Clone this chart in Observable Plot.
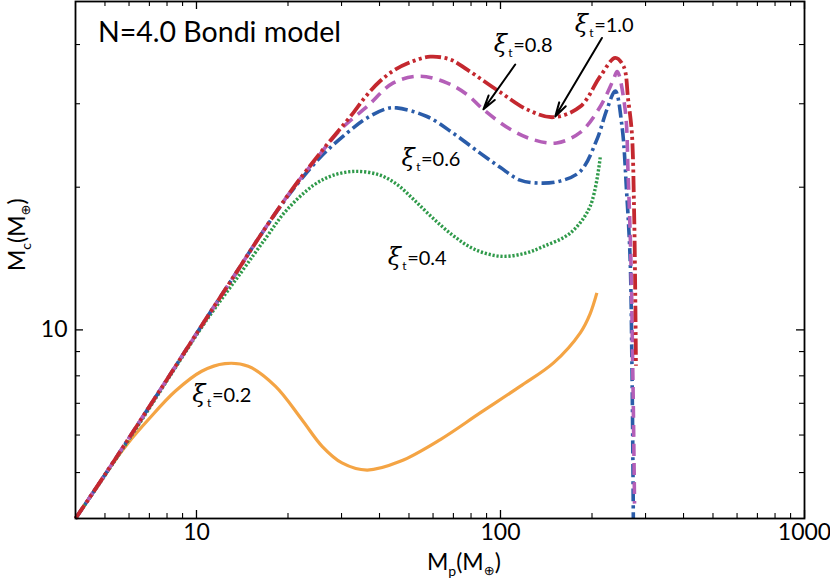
<!DOCTYPE html>
<html>
<head>
<meta charset="utf-8">
<script src="https://cdn.jsdelivr.net/npm/d3@7"></script>
<script src="https://cdn.jsdelivr.net/npm/@observablehq/plot@0.6"></script>
<style>
  html, body { margin: 0; padding: 0; background: #fff; }
  svg { display: block; }
</style>
</head>
<body>
<div id="chart"></div>
<script>
// ---- Data (Mp in Earth masses, Mc in Earth masses) ----
const xi10_Mp = [4, 5, 6.6, 8.5, 10.7, 13.3, 16.2, 20.3, 25.5, 32.8, 36.2, 40.2, 45, 51.6, 58.7, 68.3, 77.7, 100, 122, 149, 183, 213, 238.5, 254, 263, 270.4, 275, 277.5, 279];
const xi10_Mc = [4, 4.95, 6.5, 8.35, 10.5, 13.0, 15.8, 19.5, 23.6, 28.7, 31.2, 33.5, 35.4, 36.9, 37.7, 37.2, 35.4, 31.7, 29.2, 28.1, 29.6, 34.3, 37.5, 36.0, 30.6, 26.1, 18.0, 12.0, 8.4];

const xi08_Mp = [4, 5, 6.6, 8.5, 10.7, 13.3, 16.2, 20.3, 25.5, 30, 36.4, 44.4, 54.5, 66.6, 77.5, 87.7, 107.7, 128, 153, 183, 213, 235, 242, 257, 263, 268.5, 272, 274, 276];
const xi08_Mc = [4, 4.95, 6.5, 8.35, 10.5, 13.0, 15.8, 19.5, 23.5, 26.6, 29.6, 33.2, 34.3, 33.2, 31.4, 29.2, 26.5, 25.2, 24.8, 26.1, 29.6, 33.7, 35.1, 29.2, 21.1, 14.1, 8.7, 6.3, 4.3];

const xi06_Mp = [4, 5, 6.6, 8.5, 10.7, 13.3, 16.2, 20.3, 25.5, 31.2, 36.4, 42.3, 45.6, 57.3, 69.9, 85.7, 100, 116, 135, 157, 183, 207.5, 224, 238.5, 251, 260, 267, 270.5, 272.6, 273.5];
const xi06_Mc = [4, 4.95, 6.5, 8.35, 10.5, 13.0, 15.8, 19.4, 23.1, 26.0, 28.0, 29.3, 29.4, 28.2, 26.0, 23.6, 22.0, 20.7, 20.4, 20.6, 21.6, 25.2, 29.2, 31.9, 26.9, 19.5, 14.1, 8.66, 5.33, 4.0];

const xi04_Mp = [4, 5, 6.6, 8.5, 10.7, 14, 17, 19.8, 24.3, 28.2, 33.5, 40.2, 46, 52, 60, 70, 82, 100, 120, 138.5, 169.5, 197, 213];
const xi04_Mc = [4, 4.93, 6.45, 8.3, 10.4, 13.2, 15.7, 17.9, 20.2, 21.2, 21.6, 21.2, 20.2, 18.8, 17.2, 15.8, 14.8, 14.3, 14.5, 15.0, 16.0, 18.2, 23.2];

const xi02_Mp = [4, 4.41, 5.13, 5.97, 6.95, 8.51, 10.4, 12.4, 14.8, 18.2, 22.2, 25.9, 30.1, 36.4, 46.8, 63.4, 85.7, 116, 149.4, 183, 197, 207.5];
const xi02_Mc = [4, 4.39, 5.07, 5.78, 6.47, 7.42, 8.18, 8.49, 8.38, 7.60, 6.47, 5.68, 5.24, 5.06, 5.28, 5.87, 6.68, 7.60, 8.52, 9.86, 10.8, 11.97];

// tick values
const xMajorTicks = [10, 100, 1000];
const xMinorTicks = [5, 6, 7, 8, 9, 20, 30, 40, 50, 60, 70, 80, 90, 200, 300, 400, 500, 600, 700, 800, 900];
const yMajorTicks = [10];
const yMinorTicks = [5, 6, 7, 8, 9, 20, 30, 40];
const xTickLabels = ["10", "100", "1000"];
const yTickLabels = ["10"];

// curve labels
const labelValues = ["1.0", "0.8", "0.6", "0.4", "0.2"];
const labelMp = [176, 95.3, 47.4, 42.7, 9.73];
const labelMc = [42.4, 38.4, 22.1, 13.7, 7.03];

// arrows (from label to curve)
const arrowFromMp = [215.6, 111.8];
const arrowFromMc = [41.3, 36.3];
const arrowToMp = [151.4, 87.9];
const arrowToMc = [28.2, 29.2];

const zip = (xs, ys) => xs.map((x, i) => ({x, y: ys[i]}));

const W = 830, H = 581;
const mL = 75, mR = 26, mT = 1, mB = 63;
const fw = W - mL - mR, fh = H - mT - mB;

const lineOpts = {x: "x", y: "y", curve: "catmull-rom", strokeLinecap: "butt", strokeLinejoin: "round"};

const plot = Plot.plot({
  width: W, height: H,
  marginLeft: mL, marginRight: mR, marginTop: mT, marginBottom: mB,
  x: {type: "log", domain: [4, 1000], axis: null},
  y: {type: "log", domain: [4, 49.3], axis: null},
  style: {fontFamily: "Lato, 'Open Sans', sans-serif", background: "#fff", color: "#000"},
  marks: [
    // curves
    Plot.line(zip(xi02_Mp, xi02_Mc), {...lineOpts, stroke: "#f4a444", strokeWidth: 3.2}),
    Plot.line(zip(xi04_Mp, xi04_Mc), {...lineOpts, stroke: "#2f9a4a", strokeWidth: 3.4, strokeDasharray: "2.2,1.8"}),
    Plot.line(zip(xi06_Mp, xi06_Mc), {...lineOpts, stroke: "#2a5ca9", strokeWidth: 3.6, strokeDasharray: "13,4,3,4"}),
    Plot.line(zip(xi08_Mp, xi08_Mc), {...lineOpts, stroke: "#b45fb8", strokeWidth: 3.6, strokeDasharray: "12,7"}),
    Plot.line(zip(xi10_Mp, xi10_Mc), {...lineOpts, stroke: "#c4282f", strokeWidth: 3.8, strokeDasharray: "16,3.5,3,3.5,3,3.5"}),
    // arrows
    Plot.arrow([0, 1], {
      x1: d => arrowFromMp[d], y1: d => arrowFromMc[d],
      x2: d => arrowToMp[d], y2: d => arrowToMc[d],
      stroke: "#000", strokeWidth: 2, headLength: 11, headAngle: 30
    }),
    // ticks (inward)
    Plot.tickX(xMajorTicks, {x: d => d, insetTop: fh - 8, stroke: "#000", strokeWidth: 1.3}),
    Plot.tickX(xMinorTicks, {x: d => d, insetTop: fh - 5, stroke: "#000", strokeWidth: 1.1}),
    Plot.tickX(xMajorTicks, {x: d => d, insetBottom: fh - 8, stroke: "#000", strokeWidth: 1.3}),
    Plot.tickX(xMinorTicks, {x: d => d, insetBottom: fh - 5, stroke: "#000", strokeWidth: 1.1}),
    Plot.tickY(yMajorTicks, {y: d => d, insetRight: fw - 8, stroke: "#000", strokeWidth: 1.3}),
    Plot.tickY(yMinorTicks, {y: d => d, insetRight: fw - 5, stroke: "#000", strokeWidth: 1.1}),
    Plot.tickY(yMajorTicks, {y: d => d, insetLeft: fw - 8, stroke: "#000", strokeWidth: 1.3}),
    Plot.tickY(yMinorTicks, {y: d => d, insetLeft: fw - 5, stroke: "#000", strokeWidth: 1.1}),
    // tick labels
    Plot.text(xMajorTicks, {x: d => d, text: (d, i) => xTickLabels[i], frameAnchor: "bottom", lineAnchor: "top", dy: 5, fontSize: 23, fill: "#000"}),
    Plot.text(yMajorTicks, {y: d => d, text: (d, i) => yTickLabels[i], frameAnchor: "left", textAnchor: "end", dx: -8, fontSize: 23, fill: "#000"}),
    Plot.frame({stroke: "#000", strokeWidth: 1.8})
  ]
});

document.getElementById("chart").appendChild(plot);

const svg = d3.select(plot);
const sx = plot.scale("x"), sy = plot.scale("y");
const ff = "Lato, 'Open Sans', sans-serif";

// Title inside plot
svg.append("text")
  .attr("x", 98).attr("y", 41.5).attr("text-anchor", "start")
  .attr("font-family", ff).attr("font-size", 28.5).attr("fill", "#000")
  .text("N=4.0 Bondi model");

// Curve labels ξ_t=...
labelValues.forEach((v, i) => {
  const t = svg.append("text")
    .attr("x", sx.apply(labelMp[i])).attr("y", sy.apply(labelMc[i]))
    .attr("text-anchor", "start")
    .attr("font-family", ff).attr("font-size", 20).attr("fill", "#000");
  t.append("tspan").attr("font-size", 24).attr("font-family", "'DejaVu Serif', serif").attr("font-style", "italic").text("ξ");
  t.append("tspan").attr("font-size", 12).attr("dy", 5).attr("dx", 1.5).text("t");
  t.append("tspan").attr("dy", -5).attr("dx", 0.5).text("=" + v);
});

// x-axis title
const xl = svg.append("text")
  .attr("x", 427).attr("y", 570).attr("text-anchor", "start")
  .attr("font-family", ff).attr("font-size", 23).attr("fill", "#000");
xl.append("tspan").text("M");
xl.append("tspan").attr("font-size", 14).attr("dy", 6).text("p");
xl.append("tspan").attr("dy", -6).text("(M");
xl.append("tspan").attr("font-size", 13).attr("dy", 5).attr("font-family", "'DejaVu Sans', sans-serif").text("⊕");
xl.append("tspan").attr("dy", -5).text(")");

// y-axis title (rotated)
const yl = svg.append("text")
  .attr("transform", "translate(25,271) rotate(-90)").attr("text-anchor", "start")
  .attr("font-family", ff).attr("font-size", 23).attr("fill", "#000");
yl.append("tspan").text("M");
yl.append("tspan").attr("font-size", 14).attr("dy", 6).text("c");
yl.append("tspan").attr("dy", -6).text("(M");
yl.append("tspan").attr("font-size", 13).attr("dy", 5).attr("font-family", "'DejaVu Sans', sans-serif").text("⊕");
yl.append("tspan").attr("dy", -5).text(")");
</script>
</body>
</html>
